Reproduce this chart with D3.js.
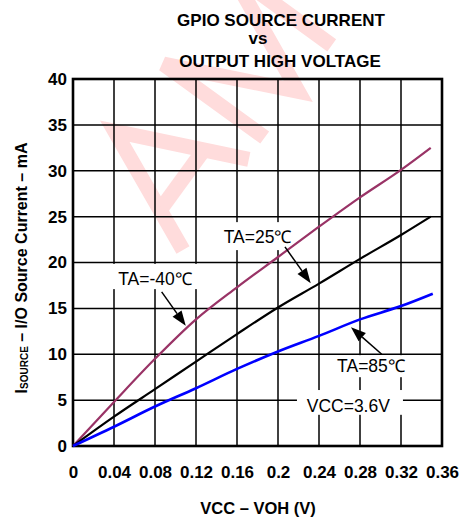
<!DOCTYPE html>
<html>
<head>
<meta charset="utf-8">
<script src="https://cdn.jsdelivr.net/npm/d3@7"></script>
<style>
html,body{margin:0;padding:0;background:#fff;}
svg{display:block;font-family:"Liberation Sans",Arial,sans-serif;}
</style>
</head>
<body>
<svg id="chart" width="465" height="523"></svg>
<script>
// ---- data ----
const xTicks = [0, 0.04, 0.08, 0.12, 0.16, 0.2, 0.24, 0.28, 0.32, 0.36];
const yTicks = [0, 5, 10, 15, 20, 25, 30, 35, 40];
const xTickLabels = ["0", "0.04", "0.08", "0.12", "0.16", "0.2", "0.24", "0.28", "0.32", "0.36"];
const vMinus40 = [0, 0.04, 0.08, 0.12, 0.16, 0.2, 0.24, 0.28, 0.32, 0.349];
const iMinus40 = [0, 4.8, 9.5, 13.8, 17.3, 20.6, 23.9, 27.1, 30.1, 32.5];
const v25 = [0, 0.04, 0.08, 0.12, 0.16, 0.2, 0.24, 0.28, 0.32, 0.349];
const i25 = [0, 3.2, 6.2, 9.2, 12.2, 15.1, 17.7, 20.4, 23.0, 25.0];
const v85 = [0, 0.04, 0.08, 0.12, 0.16, 0.2, 0.24, 0.28, 0.32, 0.351];
const i85 = [0, 2.1, 4.3, 6.3, 8.4, 10.3, 12.0, 13.8, 15.25, 16.6];
const titleLines = ["GPIO SOURCE CURRENT", "vs", "OUTPUT HIGH VOLTAGE"];
// annotations in data units
const labels = [
  {text: "TA=-40\u2103", x: 0.080, y: 17.55, box: [0.036, 0.124, 17.1, 19.85], arrow: [0.0865, 16.8, 0.110, 13.1]},
  {text: "TA=25\u2103", x: 0.180, y: 22.16, box: [0.1415, 0.2185, 21.35, 24.4], arrow: [0.2068, 21.7, 0.2319, 17.75]},
  {text: "TA=85\u2103", x: 0.2907, y: 8.1, box: [0.2527, 0.3288, 7.5, 9.9], arrow: [0.3012, 10.0, 0.2712, 12.95]},
  {text: "VCC=3.6V", x: 0.2686, y: 3.74, box: [0.2185, 0.3219, 3.4, 6.1], arrow: null}
];
// watermark letter strokes (local letter units, baseline at 0)
const watermarkStrokes = [
  [[0, 0], [56, -125], [112, 0]],
  [[22, -42], [90, -42]],
  [[139, 0], [139, -125], [196, 0], [253, -125], [253, 0]]
];

const svg = d3.select("#chart");
const L = 73, R = 442, T = 79, B = 446;
const x = d3.scaleLinear().domain([0, 0.36]).range([L, R]);
const y = d3.scaleLinear().domain([0, 40]).range([B, T]);

// watermark (decorative graphic)
const wm = svg.append("g").attr("transform", "translate(183,250) rotate(-54)");
wm.selectAll("path").data(watermarkStrokes).join("path")
  .attr("d", d => d3.line()(d))
  .attr("fill", "none").attr("stroke", "#ffdcdc").attr("stroke-width", 15)
  .attr("stroke-linejoin", "miter");

// title
const tx = [281, 258, 280], ty = [26, 44, 67];
titleLines.forEach((t, k) => {
  svg.append("text").attr("x", tx[k]).attr("y", ty[k])
    .attr("text-anchor", "middle").attr("font-weight", "bold")
    .attr("font-size", 17).text(t);
});

// grid
const g = svg.append("g");
g.selectAll("line.vx").data(xTicks.slice(1, -1)).join("line")
  .attr("x1", d => x(d)).attr("x2", d => x(d)).attr("y1", T).attr("y2", B)
  .attr("stroke", "#000").attr("stroke-width", 1.5);
g.selectAll("line.hy").data(yTicks.slice(1, -1)).join("line")
  .attr("y1", d => y(d)).attr("y2", d => y(d)).attr("x1", L).attr("x2", R)
  .attr("stroke", "#000").attr("stroke-width", 1.5);

// label boxes
svg.selectAll("rect.box").data(labels).join("rect")
  .attr("x", d => x(d.box[0])).attr("width", d => x(d.box[1]) - x(d.box[0]))
  .attr("y", d => y(d.box[3])).attr("height", d => y(d.box[2]) - y(d.box[3]))
  .attr("fill", "#fff");

// border
svg.append("rect").attr("x", L).attr("y", T).attr("width", R - L).attr("height", B - T)
  .attr("fill", "none").attr("stroke", "#000").attr("stroke-width", 2.6);

// axes tick labels
const xAxis = d3.axisBottom(x).tickValues(xTicks).tickSize(0)
  .tickFormat((d, i) => xTickLabels[i]);
const xa = svg.append("g").attr("transform", `translate(0,${B})`).call(xAxis);
xa.select(".domain").remove();
xa.selectAll("text").attr("font-size", 17).attr("font-weight", "bold")
  .attr("font-family", "Liberation Sans, Arial, sans-serif").attr("fill", "#000")
  .attr("dy", null).attr("y", 32);

const yAxis = d3.axisLeft(y).tickValues(yTicks).tickSize(0);
const ya = svg.append("g").attr("transform", `translate(${L},0)`).call(yAxis);
ya.select(".domain").remove();
ya.selectAll("text").attr("font-size", 17).attr("font-weight", "bold")
  .attr("font-family", "Liberation Sans, Arial, sans-serif").attr("fill", "#000")
  .attr("x", -6);

// curves
const line = d3.line().x(d => x(d[0])).y(d => y(d[1])).curve(d3.curveMonotoneX);
const series = [
  {v: vMinus40, i: iMinus40, color: "#993366", w: 2.2},
  {v: v25, i: i25, color: "#000000", w: 2.2},
  {v: v85, i: i85, color: "#0000ff", w: 2.6}
];
series.forEach(s => {
  svg.append("path").datum(s.v.map((v, k) => [v, s.i[k]]))
    .attr("d", line).attr("fill", "none").attr("stroke", s.color)
    .attr("stroke-width", s.w);
});

// annotation text
svg.selectAll("text.lab").data(labels).join("text")
  .attr("x", d => x(d.x)).attr("y", d => y(d.y))
  .attr("text-anchor", "middle").attr("font-size", 17.5)
  .text(d => d.text);

// arrows
labels.filter(d => d.arrow).forEach(d => {
  const [x1, y1, x2, y2] = [x(d.arrow[0]), y(d.arrow[1]), x(d.arrow[2]), y(d.arrow[3])];
  const dx = x2 - x1, dy = y2 - y1, len = Math.hypot(dx, dy);
  const ux = dx / len, uy = dy / len, hl = 15, hw = 5.5;
  const bx = x2 - ux * hl, by = y2 - uy * hl;
  svg.append("line").attr("x1", x1).attr("y1", y1).attr("x2", bx).attr("y2", by)
    .attr("stroke", "#000").attr("stroke-width", 1.5);
  svg.append("path")
    .attr("d", `M${x2},${y2}L${bx - uy * hw},${by + ux * hw}L${bx + uy * hw},${by - ux * hw}Z`)
    .attr("fill", "#000");
});

// axis titles
svg.append("text").attr("x", 258).attr("y", 514).attr("text-anchor", "middle")
  .attr("font-weight", "bold").attr("font-size", 16.5).text("VCC \u2013 VOH (V)");

const yt = svg.append("text").attr("transform", "translate(27,268) rotate(-90)")
  .attr("text-anchor", "middle").attr("font-weight", "bold").attr("font-size", 16);
yt.append("tspan").text("I");
yt.append("tspan").attr("font-size", 10).attr("dy", 1).text("SOURCE");
yt.append("tspan").attr("dy", -1).text(" \u2013 I/O Source Current \u2013 mA");
</script>
</body>
</html>
